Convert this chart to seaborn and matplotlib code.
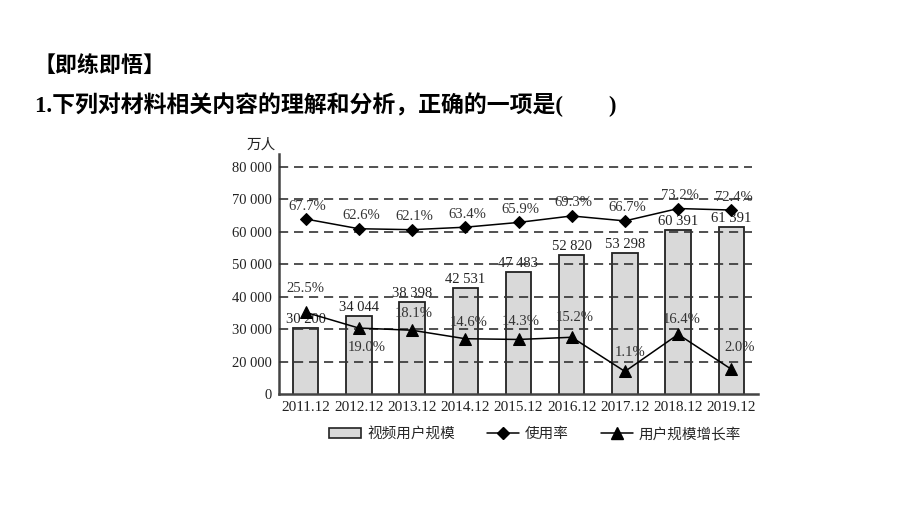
import numpy as np
import pandas as pd
import matplotlib
matplotlib.use("Agg")
import matplotlib.pyplot as plt
import seaborn as sns
from matplotlib.patches import Patch
from matplotlib.lines import Line2D

# ---------------- data ----------------
years = ["2011.12", "2012.12", "2013.12", "2014.12", "2015.12",
         "2016.12", "2017.12", "2018.12", "2019.12"]
users = [30200, 34044, 38398, 42531, 47483, 52820, 53298, 60391, 61391]
usage_rate = [67.7, 62.6, 62.1, 63.4, 65.9, 69.3, 66.7, 73.2, 72.4]
growth_rate = [25.5, 19.0, 18.1, 14.6, 14.3, 15.2, 1.1, 16.4, 2.0]
ytick_vals = [10000, 20000, 30000, 40000, 50000, 60000, 70000, 80000]
ytick_labels = ["0", "20 000", "30 000", "40 000", "50 000", "60 000", "70 000", "80 000"]

title1 = "【即练即悟】"
title2 = "1.下列对材料相关内容的理解和分析，正确的一项是(        )"
unit_label = "万人"
legend_labels = ["视频用户规模", "使用率", "用户规模增长率"]

df = pd.DataFrame({"year": years, "users": users,
                   "usage": usage_rate, "growth": growth_rate,
                   "pos": np.arange(len(years))})

# ---------------- style ----------------
sns.set_theme(style="white")
plt.rcParams["font.family"] = ["Liberation Serif", "Noto Sans CJK SC", "DejaVu Sans"]
FS = 10.5
DARK = "#222222"

fig = plt.figure(figsize=(9.2, 5.18), dpi=100)
ax = fig.add_axes([279 / 920, 1 - 394 / 518, (758 - 279) / 920, 240 / 518])

sns.barplot(data=df, x="year", y="users", ax=ax, color="#d9d9d9",
            edgecolor=DARK, linewidth=1.3, width=0.48, saturation=1, zorder=1)
ax.set_xlim(-0.5, len(years) - 0.5)
ax.set_ylim(10000, 83900)

bar_text = [f"{v:,}".replace(",", " ") for v in users]
ax.bar_label(ax.containers[0], labels=bar_text, padding=1.5, fontsize=FS, color=DARK)

# gridlines drawn above bars
for v in ytick_vals[1:]:
    ax.axhline(v, xmin=0, xmax=0.988, color="#333333", lw=1.2,
               dashes=(5.5, 3.5), zorder=3)

ax.set_yticks(ytick_vals)
ax.set_yticklabels(ytick_labels, fontsize=FS, color=DARK)
ax.tick_params(axis="y", length=0, pad=5)
ax.set_xticks(np.arange(len(years)))
ax.set_xticklabels(years, fontsize=11, color=DARK)
ax.tick_params(axis="x", which="major", length=0, pad=5)
ax.set_xticks(np.arange(len(years) - 1) + 0.5, minor=True)
ax.tick_params(axis="x", which="minor", direction="in", length=4, width=1.2,
               color="#333333")
ax.set_xlabel("")
ax.set_ylabel("")
for s in ["top", "right"]:
    ax.spines[s].set_visible(False)
for s in ["left", "bottom"]:
    ax.spines[s].set_color("#444444")
    ax.spines[s].set_linewidth(1.8)

# usage rate line (own scale)
ax2 = ax.twinx()
sns.lineplot(data=df, x="pos", y="usage", ax=ax2, color="black", lw=1.1,
             marker="D", markersize=6.5, markeredgecolor="black", zorder=5)
ax2.set_ylim(-24.1, 101.8)

# growth rate line (own scale)
ax3 = ax.twinx()
sns.lineplot(data=df, x="pos", y="growth", ax=ax3, color="black", lw=1.1,
             marker="^", markersize=9, markeredgecolor="black", zorder=5)
ax3.set_ylim(-8.2, 90.8)

for a in (ax2, ax3):
    a.set_xlim(-0.5, len(years) - 0.5)
    a.set_yticks([])
    a.set_ylabel("")
    a.set_xlabel("")
    for s in a.spines.values():
        s.set_visible(False)

for i, v in enumerate(usage_rate):
    ax2.annotate(f"{v}%", (i, v), xytext=(2, 13), textcoords="offset pixels",
                 ha="center", va="center", fontsize=FS, color="#333333")

growth_dy = [24, -19, 17, 16, 18, 20, 19, 15, 22]
growth_dx = [0, 8, 2, 3, 2, 3, 5, 3, 8]
for i, v in enumerate(growth_rate):
    ax3.annotate(f"{v}%", (i, v), xytext=(growth_dx[i], growth_dy[i]),
                 textcoords="offset pixels", ha="center", va="center",
                 fontsize=FS, color="#333333")

# texts
fig.text(261 / 920, 1 - 145 / 518, unit_label, ha="center", va="center",
         fontsize=FS, color=DARK)
fig.text(33 / 920, 1 - 67 / 518, title1, ha="left", va="center",
         fontsize=15.8, fontweight="bold", color="black")
fig.text(35 / 920, 1 - 105 / 518, title2, ha="left", va="center",
         fontsize=16.5, fontweight="bold", color="black")

# legend
handles = [
    Patch(facecolor="#d9d9d9", edgecolor=DARK, linewidth=1.2),
    Line2D([0], [0], color="black", lw=1.1, marker="D", markersize=6.5),
    Line2D([0], [0], color="black", lw=1.1, marker="^", markersize=9),
]
fig.legend(handles, legend_labels, loc="center", ncol=3, frameon=False,
           bbox_to_anchor=(535 / 920, 1 - 434 / 518), fontsize=FS,
           handlelength=2.2, handletextpad=0.4, columnspacing=2.2)

fig.savefig("out.png", dpi=100)
